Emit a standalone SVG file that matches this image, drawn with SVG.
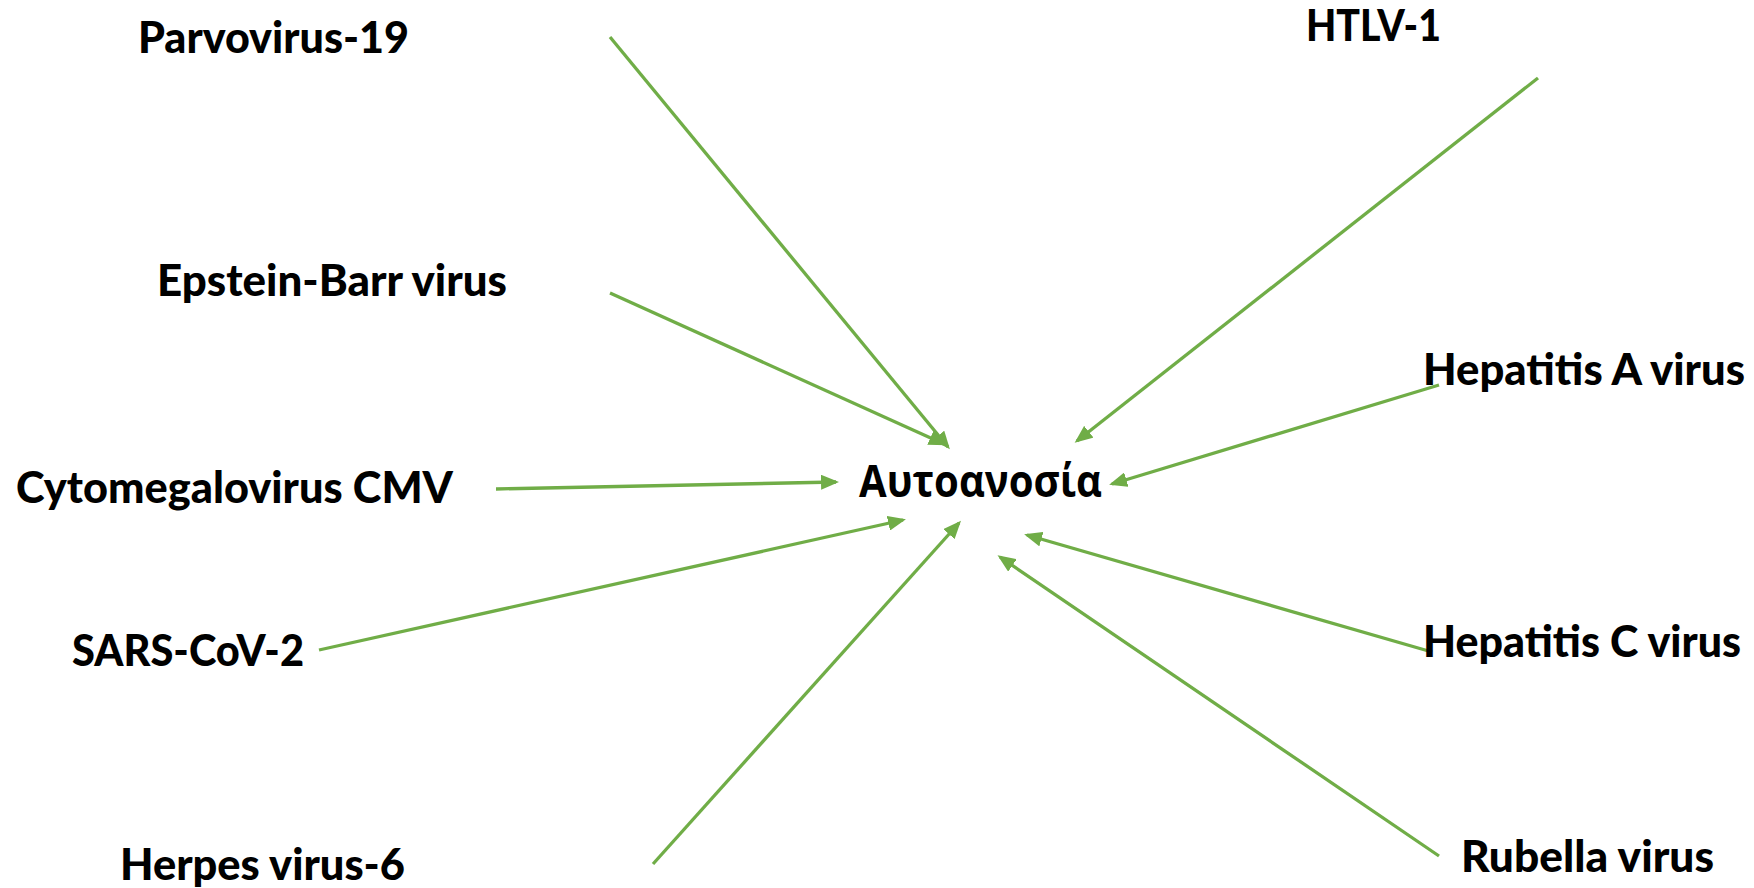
<svg xmlns="http://www.w3.org/2000/svg" width="1754" height="888" viewBox="0 0 1754 888">
<style>
.lbl{font-family:Lato,"Open Sans","Liberation Sans",sans-serif;font-weight:900;font-size:43px;fill:#000}
.gr{font-family:"Open Sans","Noto Sans","Liberation Sans",sans-serif;font-weight:bold;font-size:44px;fill:#000}
.c{stroke:#70AD47;stroke-width:3.3;fill:none;marker-end:url(#ah)}
</style>
<defs>
<marker id="ah" viewBox="0 0 6 5" refX="5" refY="2.5" markerWidth="18" markerHeight="15" orient="auto" markerUnits="userSpaceOnUse">
<path d="M0,0 L6,2.5 L0,5 Z" fill="#70AD47"/>
</marker>
</defs>
<rect width="1754" height="888" fill="#fff"/>
<g id="connectors">
<line class="c" x1="610" y1="37" x2="948" y2="447"/>
<line class="c" x1="610" y1="293" x2="944" y2="444"/>
<line class="c" x1="1538" y1="78" x2="1077" y2="441"/>
<line class="c" x1="1439" y1="385" x2="1112" y2="484"/>
<line class="c" x1="496" y1="489" x2="836" y2="482"/>
<line class="c" x1="319" y1="650" x2="903" y2="520"/>
<line class="c" x1="653" y1="864" x2="959" y2="523"/>
<line class="c" x1="1432" y1="652" x2="1027" y2="535"/>
<line class="c" x1="1439" y1="856" x2="1000" y2="557"/>
</g>
<g id="center"><text class="gr" x="859" y="497" textLength="243" lengthAdjust="spacingAndGlyphs">Αυτοανοσία</text></g>
<g id="parvo"><text class="lbl" x="138" y="53" textLength="271" lengthAdjust="spacingAndGlyphs">Parvovirus-19</text></g>
<g id="htlv"><text class="lbl" x="1306" y="41" textLength="135" lengthAdjust="spacingAndGlyphs">HTLV-1</text></g>
<g id="ebv"><text class="lbl" x="157" y="296" textLength="350" lengthAdjust="spacingAndGlyphs">Epstein-Barr virus</text></g>
<g id="hav"><text class="lbl" x="1423" y="385" textLength="322" lengthAdjust="spacingAndGlyphs">Hepatitis A virus</text></g>
<g id="cmv"><text class="lbl" x="16" y="503" textLength="437" lengthAdjust="spacingAndGlyphs">Cytomegalovirus CMV</text></g>
<g id="sars"><text class="lbl" x="72" y="666" textLength="232" lengthAdjust="spacingAndGlyphs">SARS-CoV-2</text></g>
<g id="hcv"><text class="lbl" x="1423" y="657" textLength="318" lengthAdjust="spacingAndGlyphs">Hepatitis C virus</text></g>
<g id="hhv6"><text class="lbl" x="120" y="880" textLength="285" lengthAdjust="spacingAndGlyphs">Herpes virus-6</text></g>
<g id="rubella"><text class="lbl" x="1461" y="872" textLength="253" lengthAdjust="spacingAndGlyphs">Rubella virus</text></g>
</svg>
